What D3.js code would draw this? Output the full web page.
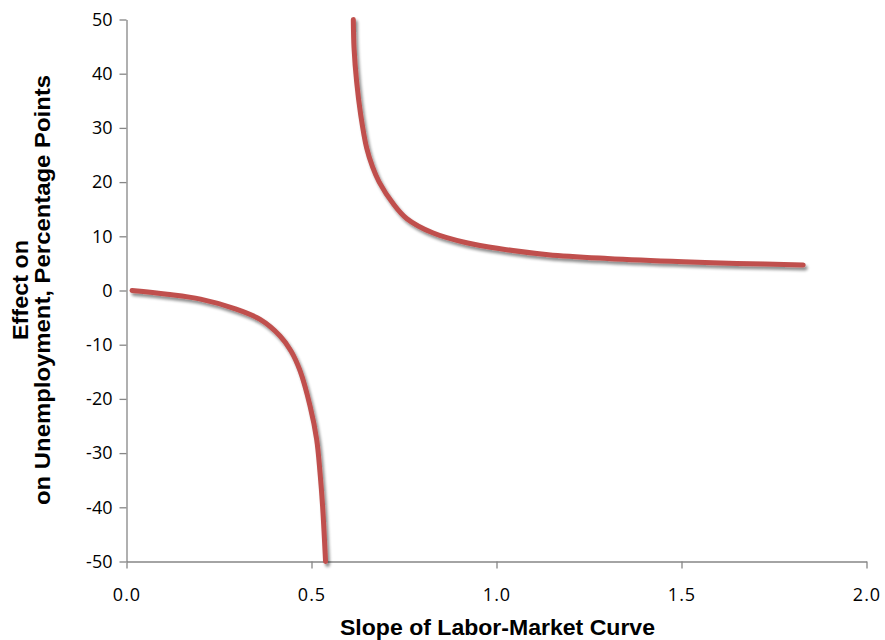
<!DOCTYPE html>
<html><head><meta charset="utf-8">
<script src="https://cdn.jsdelivr.net/npm/d3@7"></script>
<style>body{margin:0;background:#fff}svg{display:block}</style>
</head><body>
<svg id="c" width="885" height="640"></svg>
<script>
const xTicks = [0, 0.5, 1.0, 1.5, 2.0];
const yTicks = [-50, -40, -30, -20, -10, 0, 10, 20, 30, 40, 50];
const lowerX = [0.015, 0.11, 0.2, 0.29, 0.36, 0.415, 0.445, 0.469, 0.496, 0.514, 0.523, 0.53, 0.538];
const lowerY = [0, -0.7, -1.6, -3.3, -5.3, -8.4, -11.2, -14.8, -21.3, -27.5, -33.6, -39.8, -50];
const upperX = [0.613, 0.615, 0.622, 0.633, 0.649, 0.665, 0.683, 0.721, 0.757, 0.829, 0.919, 1.01, 1.14, 1.3, 1.505, 1.65, 1.829];
const upperY = [50, 44.7, 38.5, 32.4, 26.3, 22.8, 20.0, 16.0, 13.3, 10.6, 8.8, 7.7, 6.6, 5.9, 5.3, 5.0, 4.7];
const xTitle = "Slope of Labor-Market Curve";
const yTitle = ["Effect on", "on Unemployment, Percentage Points"];

const svg = d3.select("#c");
const L = 126.5, R = 866.5, T = 19.5, B = 561.5;
const x = d3.scaleLinear().domain([0, 2]).range([L, R]);
const y = d3.scaleLinear().domain([-50, 50]).range([B, T]);
const axisColor = "#868686";
const tickFont = "'Open Sans', 'Liberation Sans', Arial, sans-serif";
const titleFont = "'Liberation Sans', Arial, sans-serif";

const defs = svg.append("defs");
const f = defs.append("filter").attr("id", "sh").attr("x", "-10%").attr("y", "-10%").attr("width", "130%").attr("height", "130%");
f.append("feGaussianBlur").attr("in", "SourceAlpha").attr("stdDeviation", 1.6).attr("result", "b");
f.append("feOffset").attr("in", "b").attr("dx", 2).attr("dy", 3).attr("result", "o");
f.append("feComponentTransfer").attr("in", "o").attr("result", "oc")
  .append("feFuncA").attr("type", "linear").attr("slope", 0.45);
const m = f.append("feMerge");
m.append("feMergeNode").attr("in", "oc");
m.append("feMergeNode").attr("in", "SourceGraphic");

// axes
const ya = svg.append("g").attr("transform", `translate(${L},0)`)
  .call(d3.axisLeft(y).tickValues(yTicks).tickSize(7).tickSizeOuter(0).tickPadding(7).tickFormat(d => String(d)));
const xa = svg.append("g").attr("transform", `translate(0,${B})`)
  .call(d3.axisBottom(x).tickValues(xTicks).tickSize(7).tickSizeOuter(0).tickPadding(20).tickFormat(d => d.toFixed(1)));
[ya, xa].forEach(a => {
  a.select(".domain").attr("stroke", axisColor).attr("stroke-width", 1.3);
  a.selectAll(".tick line").attr("stroke", axisColor).attr("stroke-width", 1.3);
  a.selectAll("text").attr("fill", "#000").style("font-family", tickFont).style("font-size", "18px");
});
xa.selectAll("text").style("letter-spacing", "1px");

// curves
const line = d3.line().x(d => x(d[0])).y(d => y(d[1])).curve(d3.curveCatmullRom.alpha(0.5));
const g = svg.append("g").attr("filter", "url(#sh)");
[[lowerX, lowerY], [upperX, upperY]].forEach(([xs, ys]) => {
  g.append("path").datum(xs.map((v, i) => [v, ys[i]]))
    .attr("d", line).attr("fill", "none").attr("stroke", "#c0504d")
    .attr("stroke-width", 5).attr("stroke-linecap", "round").attr("stroke-linejoin", "round");
});

// titles
svg.append("text").attr("x", (L + R) / 2 + 1).attr("y", 635).attr("text-anchor", "middle")
  .attr("textLength", 315).attr("lengthAdjust", "spacingAndGlyphs")
  .style("font-family", titleFont).style("font-weight", "bold").style("font-size", "22px").text(xTitle);
const cy = 290;
svg.append("text").attr("transform", `translate(28,${cy}) rotate(-90)`)
  .attr("text-anchor", "middle").attr("textLength", 100).attr("lengthAdjust", "spacingAndGlyphs")
  .style("font-family", titleFont).style("font-weight", "bold").style("font-size", "22px").text(yTitle[0]);
svg.append("text").attr("transform", `translate(50,${cy}) rotate(-90)`)
  .attr("text-anchor", "middle").attr("textLength", 430).attr("lengthAdjust", "spacingAndGlyphs")
  .style("font-family", titleFont).style("font-weight", "bold").style("font-size", "22px").text(yTitle[1]);
</script>
</body></html>
